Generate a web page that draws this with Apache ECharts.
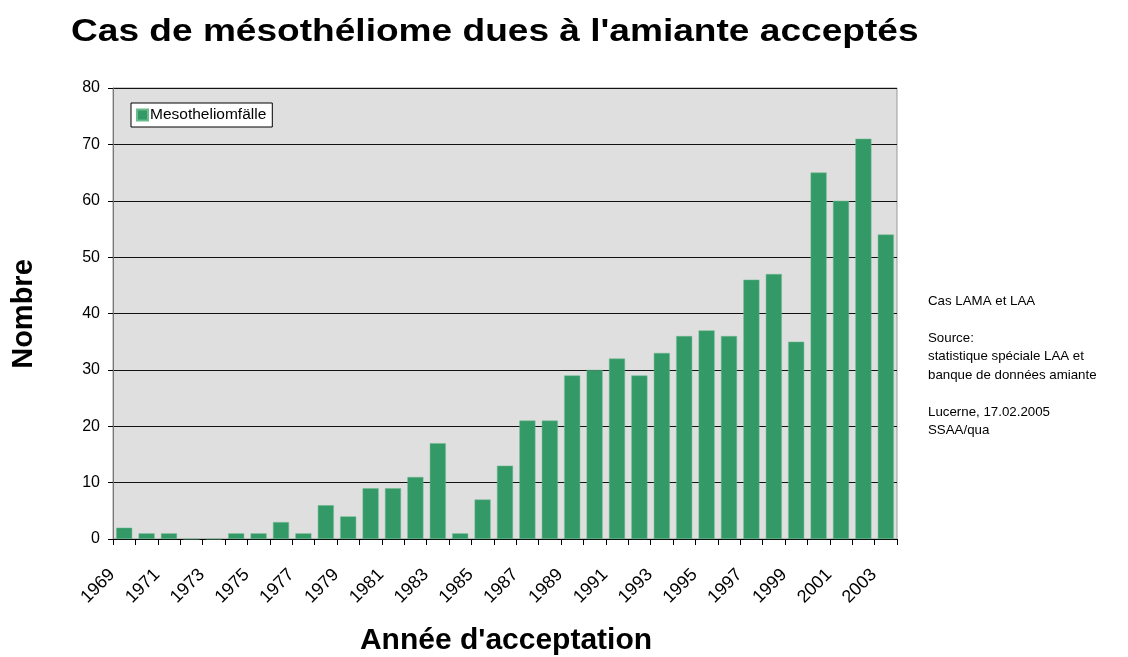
<!DOCTYPE html>
<html>
<head>
<meta charset="utf-8">
<script src="https://cdn.jsdelivr.net/npm/echarts@6/dist/echarts.min.js"></script>
</head>
<body style="margin:0;background:#fff;">
<div id="main" style="width:1128px;height:657px;"></div>
<script type="text/javascript">
// years 1969..2003
var years = ['1969','1970','1971','1972','1973','1974','1975','1976','1977','1978',
             '1979','1980','1981','1982','1983','1984','1985','1986','1987','1988',
             '1989','1990','1991','1992','1993','1994','1995','1996','1997','1998',
             '1999','2000','2001','2002','2003'];
var cases = [2,1,1,0,0,1,1,3,1,6,
             4,9,9,11,17,1,7,13,21,21,
             29,30,32,29,33,36,37,36,46,47,
             35,65,60,71,54];
var yTicks = { min: 0, max: 80, interval: 10 };
var noteLines = ['Cas LAMA et LAA', '', 'Source:', 'statistique spéciale LAA et',
                 'banque de données amiante', '', 'Lucerne, 17.02.2005', 'SSAA/qua'];

var chart = echarts.init(document.getElementById('main'));
var font = 'Liberation Sans, Arial, sans-serif';
chart.setOption({
    animation: false,
    backgroundColor: '#fff',
    legend: {
        data: ['Mesotheliomfälle'],
        left: 131, top: 103,
        orient: 'vertical',
        backgroundColor: '#fff',
        borderColor: '#000', borderWidth: 1,
        padding: [4, 6, 4, 5],
        itemWidth: 11, itemHeight: 11, itemGap: 0,
        icon: 'rect',
        textStyle: { fontFamily: font, fontSize: 15.5, color: '#000', padding: [0, 0, 0, -3] }
    },
    grid: {
        left: 113, right: 231, top: 88, bottom: 118,
        containLabel: false, outerBoundsMode: 'none',
        show: true, backgroundColor: '#dfdfdf', borderColor: '#999', borderWidth: 1
    },
    xAxis: {
        type: 'category',
        data: years,
        axisLine: { lineStyle: { color: '#000', width: 1 } },
        axisTick: { show: true, alignWithLabel: false, interval: 0, length: 6, lineStyle: { color: '#000' } },
        axisLabel: { interval: 1, rotate: 45, fontFamily: font, fontSize: 18, color: '#000',
                     margin: 21, padding: [0, 17, 0, 0] }
    },
    yAxis: {
        type: 'value',
        min: yTicks.min, max: yTicks.max, interval: yTicks.interval,
        axisLine: { show: true, lineStyle: { color: '#777' } },
        axisTick: { show: true, length: 5, lineStyle: { color: '#000' } },
        axisLabel: { fontFamily: font, fontSize: 16, color: '#000', margin: 13 },
        splitLine: { lineStyle: { color: '#111', width: 1 } }
    },
    series: [{
        name: 'Mesotheliomfälle',
        type: 'bar',
        data: cases,
        barWidth: 16,
        itemStyle: { color: '#339966', borderColor: '#6cbb8e', borderWidth: 0.5 }
    }],
    graphic: [{
        type: 'text',
        x: 71, y: 32, scaleX: 1.196,
        style: {
            text: "Cas de mésothéliome dues à l'amiante acceptés",
            fontFamily: font, fontSize: 31, fontWeight: 'bold', fill: '#000',
            verticalAlign: 'middle', align: 'left'
        }
    }, {
        type: 'text',
        x: 24, y: 314, rotation: Math.PI / 2,
        style: {
            text: 'Nombre',
            fontFamily: font, fontSize: 29, fontWeight: 'bold', fill: '#000',
            verticalAlign: 'middle', align: 'center'
        }
    }, {
        type: 'text',
        x: 506, y: 641,
        style: {
            text: "Année d'acceptation",
            fontFamily: font, fontSize: 30, fontWeight: 'bold', fill: '#000',
            verticalAlign: 'middle', align: 'center'
        }
    }, {
        type: 'text',
        left: 928, top: 292,
        style: {
            text: noteLines.join('\n'),
            fontFamily: font, fontSize: 13.3, lineHeight: 18.5, fill: '#000'
        }
    }]
});
</script>
</body>
</html>
